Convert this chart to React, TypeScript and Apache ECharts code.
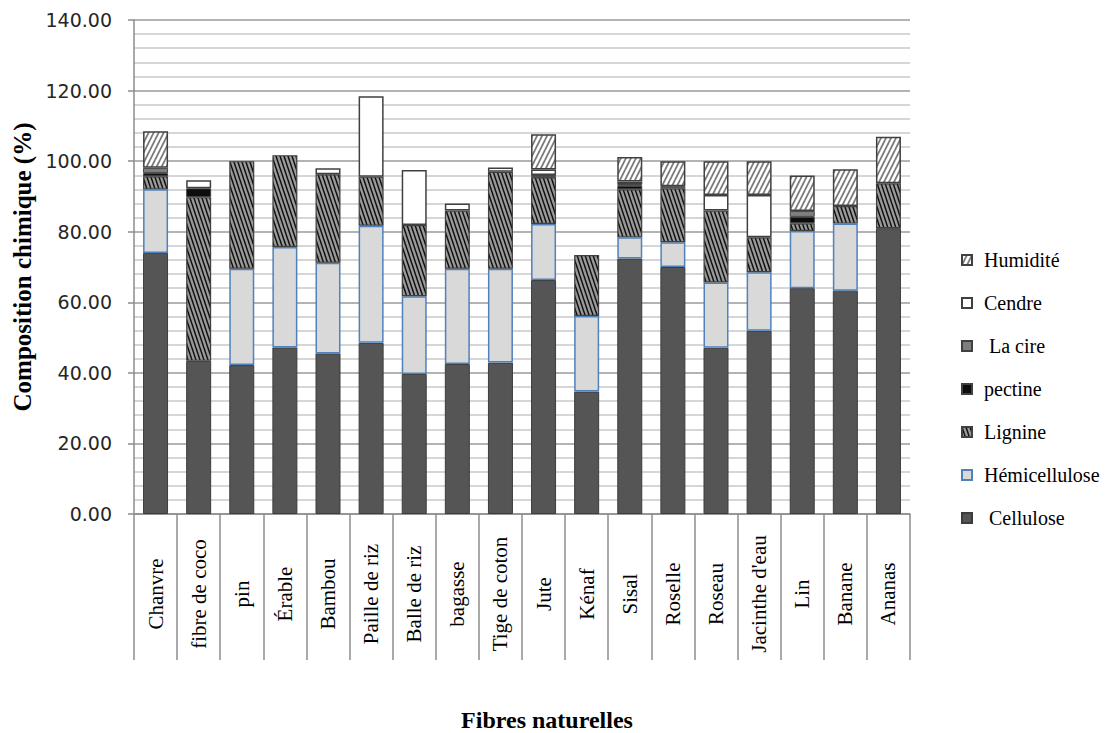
import React, { useEffect, useRef } from 'react';
import * as echarts from 'echarts';

// Fibres, in axis order
const categories = [
  'Chanvre', 'fibre de coco', 'pin', 'Érable', 'Bambou', 'Paille de riz', 'Balle de riz',
  'bagasse', 'Tige de coton', 'Jute', 'Kénaf', 'Sisal', 'Roselle', 'Roseau',
  "Jacinthe d'eau", 'Lin', 'Banane', 'Ananas',
];

// Chemical composition (%) per fibre, one array per component (0 = not reported)
const cellulose = [74, 43.4, 42.2, 47.2, 45.5, 48.5, 39.7, 42.5, 42.9, 66.3, 34.7, 72.4, 70, 47.1, 51.9, 64, 63.3, 81];
const hemicellulose = [18, 0, 27.3, 28.5, 25.7, 33.2, 22, 27, 26.6, 15.9, 21.4, 6, 7, 18.5, 16.6, 16.2, 19, 0];
const lignine = [3.7, 46.4, 30.5, 26, 25.1, 13.9, 20.2, 16.5, 27.5, 13.2, 17.3, 13.6, 15.3, 20.4, 9.9, 2.2, 5, 12.7];
const pectine = [0.9, 2.5, 0, 0, 0, 0, 0, 0, 0, 0.2, 0, 1, 0, 0, 0, 1.8, 0, 0];
const cire = [1.5, 0, 0, 0, 0, 0, 0, 0, 0, 0.5, 0, 0.5, 0.6, 0, 0, 1.7, 0, 0];
const cendre = [0, 2.3, 0, 0, 1.7, 22.8, 15.6, 2, 1.2, 1.5, 0, 0.7, 0, 4.4, 12, 0, 0, 0];
const humidite = [10.4, 0, 0, 0, 0, 0, 0, 0, 0, 10, 0, 7, 7.1, 9.6, 9.6, 10, 10.4, 13.2];

// Y axis range
const yMin = 0;
const yMax = 140;
const yStep = 20;

const legendOrder = ['Humidité', 'Cendre', 'La cire', 'pectine', 'Lignine', 'Hémicellulose', 'Cellulose'];

function hatch(w: number, h: number, bg: string, line: string, lw: number, dir: 'up' | 'down') {
  const c = document.createElement('canvas');
  c.width = w;
  c.height = h;
  const ctx = c.getContext('2d')!;
  ctx.fillStyle = bg;
  ctx.fillRect(0, 0, w, h);
  ctx.strokeStyle = line;
  ctx.lineWidth = lw;
  for (const dx of [-w, 0, w]) {
    for (const dy of [-h, 0, h]) {
      ctx.beginPath();
      if (dir === 'down') {
        ctx.moveTo(dx, dy);
        ctx.lineTo(dx + w, dy + h);
      } else {
        ctx.moveTo(dx, dy + h);
        ctx.lineTo(dx + w, dy);
      }
      ctx.stroke();
    }
  }
  return { image: c, repeat: 'repeat', imageWidth: w, imageHeight: h } as any;
}

const toData = (arr: number[]) => arr.map((v) => (v === 0 ? '-' : v));

export default function App() {
  const ref = useRef<HTMLDivElement>(null);

  useEffect(() => {
    if (!ref.current) return;
    const chart = echarts.init(ref.current, undefined, { renderer: 'svg' });

    const ligninePattern = hatch(4, 12, '#9a9a9a', '#111111', 1.5, 'down');
    const humiditePattern = hatch(5, 10, '#ffffff', '#7a7a7a', 1.8, 'up');

    const edge = '#404040';
    const mk = (name: string, data: number[], itemStyle: any) => ({
      name,
      type: 'bar',
      stack: 'total',
      barWidth: 25,
      data: toData(data),
      itemStyle,
      emphasis: { disabled: true },
    });

    const serif = '"Liberation Serif", "Times New Roman", serif';

    chart.setOption({
      animation: false,
      backgroundColor: '#ffffff',
      textStyle: { fontFamily: serif },
      grid: { left: 134, right: 195, top: 20, bottom: 219, containLabel: false },
      legend: {
        orient: 'vertical',
        left: 956,
        top: 245,
        icon: 'rect',
        itemWidth: 10,
        itemHeight: 10,
        itemGap: 23,
        data: legendOrder,
        formatter: (n: string) =>
          '{gap|}{t|' + (n === 'La cire' || n === 'Cellulose' ? ' ' + n : n) + '}',
        textStyle: {
          fontFamily: serif,
          fontSize: 20,
          color: '#000',
          rich: {
            gap: { width: 7 },
            t: { fontFamily: serif, fontSize: 20, color: '#000', lineHeight: 20 },
          },
        },
        selectedMode: false,
      },
      xAxis: {
        type: 'category',
        data: categories,
        axisLine: { lineStyle: { color: '#8c8c8c', width: 1.5 } },
        axisTick: { show: true, length: 146, lineStyle: { color: '#8c8c8c', width: 1.5 } },
        axisLabel: {
          interval: 0,
          rotate: 90,
          align: 'center',
          verticalAlign: 'middle',
          margin: 80,
          fontFamily: serif,
          fontSize: 21,
          color: '#000',
        },
        splitLine: { show: false },
      },
      yAxis: {
        type: 'value',
        min: yMin,
        max: yMax,
        interval: yStep,
        name: 'Composition chimique (%)',
        nameLocation: 'middle',
        nameGap: 97,
        nameTextStyle: { fontFamily: serif, fontWeight: 'bold', fontSize: 25, color: '#000' },
        axisLine: { show: true, lineStyle: { color: '#8c8c8c', width: 1.5 } },
        axisTick: { show: true, length: 6, lineStyle: { color: '#8c8c8c', width: 1.5 } },
        axisLabel: {
          formatter: (v: number) => v.toFixed(2),
          fontFamily: 'DejaVu Sans',
          fontSize: 19,
          color: '#262626',
          margin: 22,
        },
        splitLine: { show: true, lineStyle: { color: '#9a9a9a', width: 1.5 } },
        minorTick: { show: false, splitNumber: 5 },
        minorSplitLine: { show: true, lineStyle: { color: '#c8c8c8', width: 1.5 } },
      },
      graphic: [
        {
          type: 'text',
          x: 547,
          y: 720,
          style: {
            text: 'Fibres naturelles',
            fontFamily: serif,
            fontWeight: 'bold',
            fontSize: 24,
            fill: '#000',
            textAlign: 'center',
            textVerticalAlign: 'middle',
          },
        },
      ],
      series: [
        mk('Cellulose', cellulose, { color: '#555555', borderColor: '#3c3c3c', borderWidth: 1 }),
        mk('Hémicellulose', hemicellulose, { color: '#d9d9d9', borderColor: '#4f81bd', borderWidth: 1.5 }),
        mk('Lignine', lignine, { color: ligninePattern, borderColor: edge, borderWidth: 1.2 }),
        mk('pectine', pectine, { color: '#0d0d0d', borderColor: edge, borderWidth: 1 }),
        mk('La cire', cire, { color: '#7f7f7f', borderColor: edge, borderWidth: 1 }),
        mk('Cendre', cendre, { color: '#ffffff', borderColor: edge, borderWidth: 1.5 }),
        mk('Humidité', humidite, { color: humiditePattern, borderColor: edge, borderWidth: 1.5 }),
      ],
    });

    return () => chart.dispose();
  }, []);

  return (
    <div
      ref={ref}
      style={{ position: 'fixed', left: 0, top: 0, width: 1105, height: 733, background: '#fff' }}
    />
  );
}
